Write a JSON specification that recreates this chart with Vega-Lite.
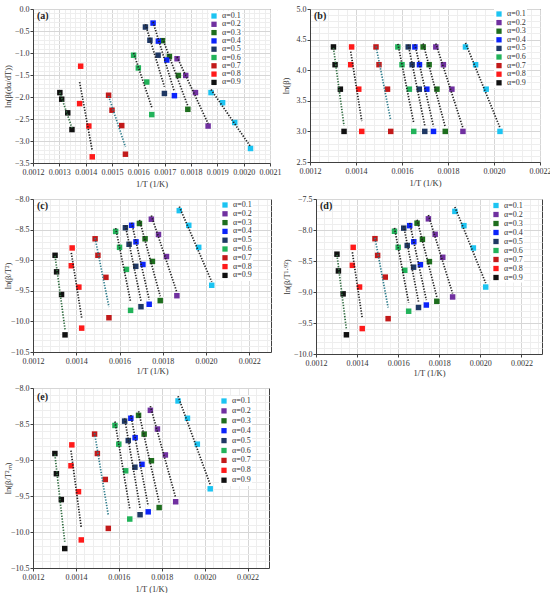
{
  "$schema": "https://vega.github.io/schema/vega-lite/v6.json",
  "padding": {"left": 2, "top": 4, "right": 0, "bottom": 0},
  "background": "white",
  "config": {
    "font": "Liberation Serif",
    "view": {"stroke": "#404040", "strokeWidth": 1},
    "axis": {
      "labelFont": "Liberation Serif",
      "titleFont": "Liberation Serif",
      "labelFontSize": 8,
      "titleFontSize": 8.5,
      "titleFontWeight": "normal",
      "labelColor": "#333333",
      "titleColor": "#333333",
      "domainColor": "#404040",
      "tickColor": "#404040",
      "tickSize": 3,
      "labelPadding": 2,
      "labelOverlap": false,
      "labelFlush": false
    },
    "axisY": {"labelPadding": 1},
    "axisX": {"titlePadding": 3},
    "legend": {
      "orient": "none",
      "title": null,
      "labelFont": "Liberation Serif",
      "labelFontSize": 8,
      "labelColor": "#333333",
      "symbolType": "square",
      "symbolSize": 28,
      "symbolStrokeWidth": 0,
      "fillColor": "white",
      "padding": 1,
      "labelOffset": 4
    },
    "title": {
      "font": "Liberation Serif",
      "fontSize": 10,
      "fontWeight": "bold",
      "color": "#222222",
      "anchor": "start",
      "frame": "group",
      "offset": -16,
      "dx": 4
    }
  },
  "datasets": {
    "pts": [
      {"alpha": "α=0.1", "beta": 80, "lnb": 4.38, "x": 0.001876, "a": -1.90, "c": -8.19, "d": -7.70, "e": -8.18},
      {"alpha": "α=0.1", "beta": 60, "lnb": 4.09, "x": 0.001920, "a": -2.13, "c": -8.43, "d": -7.93, "e": -8.42},
      {"alpha": "α=0.1", "beta": 40, "lnb": 3.69, "x": 0.001966, "a": -2.58, "c": -8.79, "d": -8.29, "e": -8.78},
      {"alpha": "α=0.1", "beta": 20, "lnb": 3.00, "x": 0.002026, "a": -3.17, "c": -9.41, "d": -8.92, "e": -9.40},
      {"alpha": "α=0.2", "beta": 80, "lnb": 4.38, "x": 0.001747, "a": -1.13, "c": -8.33, "d": -7.82, "e": -8.31},
      {"alpha": "α=0.2", "beta": 60, "lnb": 4.09, "x": 0.001780, "a": -1.51, "c": -8.58, "d": -8.07, "e": -8.57},
      {"alpha": "α=0.2", "beta": 40, "lnb": 3.69, "x": 0.001817, "a": -1.90, "c": -8.94, "d": -8.44, "e": -8.93},
      {"alpha": "α=0.2", "beta": 20, "lnb": 3.00, "x": 0.001865, "a": -2.66, "c": -9.58, "d": -9.08, "e": -9.58},
      {"alpha": "α=0.3", "beta": 80, "lnb": 4.38, "x": 0.001692, "a": -0.72, "c": -8.40, "d": -7.89, "e": -8.38},
      {"alpha": "α=0.3", "beta": 60, "lnb": 4.09, "x": 0.001718, "a": -1.08, "c": -8.65, "d": -8.15, "e": -8.64},
      {"alpha": "α=0.3", "beta": 40, "lnb": 3.69, "x": 0.001752, "a": -1.51, "c": -9.02, "d": -8.51, "e": -9.01},
      {"alpha": "α=0.3", "beta": 20, "lnb": 3.00, "x": 0.001788, "a": -2.28, "c": -9.66, "d": -9.15, "e": -9.66},
      {"alpha": "α=0.4", "beta": 80, "lnb": 4.38, "x": 0.001656, "a": -0.32, "c": -8.43, "d": -7.93, "e": -8.42},
      {"alpha": "α=0.4", "beta": 60, "lnb": 4.09, "x": 0.001676, "a": -0.73, "c": -8.70, "d": -8.19, "e": -8.69},
      {"alpha": "α=0.4", "beta": 40, "lnb": 3.69, "x": 0.001708, "a": -1.16, "c": -9.07, "d": -8.56, "e": -9.06},
      {"alpha": "α=0.4", "beta": 20, "lnb": 3.00, "x": 0.001737, "a": -1.97, "c": -9.72, "d": -9.21, "e": -9.72},
      {"alpha": "α=0.5", "beta": 80, "lnb": 4.38, "x": 0.001627, "a": -0.41, "c": -8.47, "d": -7.97, "e": -8.46},
      {"alpha": "α=0.5", "beta": 60, "lnb": 4.09, "x": 0.001644, "a": -0.71, "c": -8.74, "d": -8.25, "e": -8.73},
      {"alpha": "α=0.5", "beta": 40, "lnb": 3.69, "x": 0.001675, "a": -1.05, "c": -9.10, "d": -8.60, "e": -9.10},
      {"alpha": "α=0.5", "beta": 20, "lnb": 3.00, "x": 0.001699, "a": -1.92, "c": -9.76, "d": -9.25, "e": -9.76},
      {"alpha": "α=0.6", "beta": 80, "lnb": 4.38, "x": 0.001582, "a": -1.05, "c": -8.53, "d": -8.02, "e": -8.52},
      {"alpha": "α=0.6", "beta": 60, "lnb": 4.09, "x": 0.001600, "a": -1.34, "c": -8.79, "d": -8.28, "e": -8.78},
      {"alpha": "α=0.6", "beta": 40, "lnb": 3.69, "x": 0.001632, "a": -1.66, "c": -9.15, "d": -8.65, "e": -9.15},
      {"alpha": "α=0.6", "beta": 20, "lnb": 3.00, "x": 0.001651, "a": -2.40, "c": -9.82, "d": -9.31, "e": -9.82},
      {"alpha": "α=0.7", "beta": 80, "lnb": 4.38, "x": 0.001487, "a": -1.96, "c": -8.65, "d": -8.14, "e": -8.64},
      {"alpha": "α=0.7", "beta": 60, "lnb": 4.09, "x": 0.001500, "a": -2.30, "c": -8.92, "d": -8.41, "e": -8.91},
      {"alpha": "α=0.7", "beta": 40, "lnb": 3.69, "x": 0.001537, "a": -2.65, "c": -9.28, "d": -8.76, "e": -9.27},
      {"alpha": "α=0.7", "beta": 20, "lnb": 3.00, "x": 0.001551, "a": -3.30, "c": -9.94, "d": -9.43, "e": -9.95},
      {"alpha": "α=0.8", "beta": 80, "lnb": 4.38, "x": 0.001381, "a": -1.30, "c": -8.80, "d": -8.28, "e": -8.79},
      {"alpha": "α=0.8", "beta": 60, "lnb": 4.09, "x": 0.001377, "a": -2.15, "c": -9.09, "d": -8.57, "e": -9.08},
      {"alpha": "α=0.8", "beta": 40, "lnb": 3.69, "x": 0.001412, "a": -2.66, "c": -9.44, "d": -8.92, "e": -9.44},
      {"alpha": "α=0.8", "beta": 20, "lnb": 3.00, "x": 0.001425, "a": -3.36, "c": -10.11, "d": -9.59, "e": -10.11},
      {"alpha": "α=0.9", "beta": 80, "lnb": 4.38, "x": 0.001302, "a": -1.90, "c": -8.92, "d": -8.39, "e": -8.91},
      {"alpha": "α=0.9", "beta": 60, "lnb": 4.09, "x": 0.001309, "a": -2.05, "c": -9.19, "d": -8.66, "e": -9.19},
      {"alpha": "α=0.9", "beta": 40, "lnb": 3.69, "x": 0.001332, "a": -2.36, "c": -9.56, "d": -9.03, "e": -9.55},
      {"alpha": "α=0.9", "beta": 20, "lnb": 3.00, "x": 0.001348, "a": -2.74, "c": -10.22, "d": -9.69, "e": -10.23}
    ]
  },
  "spacing": 6,
  "resolve": {"scale": {"color": "independent"}, "legend": {"color": "independent"}},
  "vconcat": [
    {
      "spacing": -2,
      "resolve": {"scale": {"color": "independent"}, "legend": {"color": "independent"}},
      "hconcat": [
        {
          "width": 237,
          "height": 154,
          "title": {"text": "(a)"},
          "data": {"name": "pts"},
          "encoding": {
            "x": {
              "field": "x", "type": "quantitative",
              "scale": {"domain": [0.0012, 0.0021], "nice": false, "zero": false},
              "axis": {
                "title": "1/T (1/K)",
                "values": [0.0012,0.00122,0.00124,0.00126,0.00128,0.0013,0.00132,0.00134,0.00136,0.00138,0.0014,0.00142,0.00144,0.00146,0.00148,0.0015,0.00152,0.00154,0.00156,0.00158,0.0016,0.00162,0.00164,0.00166,0.00168,0.0017,0.00172,0.00174,0.00176,0.00178,0.0018,0.00182,0.00184,0.00186,0.00188,0.0019,0.00192,0.00194,0.00196,0.00198,0.002,0.00202,0.00204,0.00206,0.00208,0.0021],
                "format": ".4f",
                "labelExpr": "abs(datum.value*10000 - round(datum.value*10000)) < 0.05 ? datum.label : ''",
                "gridColor": {"condition": {"test": "abs(datum.value*10000 - round(datum.value*10000)) < 0.05", "value": "#d6d6d6"}, "value": "#eeeeee"},
                "tickOpacity": {"condition": {"test": "abs(datum.value*10000 - round(datum.value*10000)) < 0.05", "value": 1}, "value": 0}
              }
            },
            "y": {
              "field": "a", "type": "quantitative",
              "scale": {"domain": [-3.5, 0], "nice": false, "zero": false},
              "axis": {
                "title": "ln(β(dα/dT))",
                "titleX": -21,
                "values": [-3.5,-3.4,-3.3,-3.2,-3.1,-3,-2.9,-2.8,-2.7,-2.6,-2.5,-2.4,-2.3,-2.2,-2.1,-2,-1.9,-1.8,-1.7,-1.6,-1.5,-1.4,-1.3,-1.2,-1.1,-1,-0.9,-0.8,-0.7,-0.6,-0.5,-0.4,-0.3,-0.2,-0.1,0],
                "format": ".1f",
                "labelExpr": "abs(datum.value*2 - round(datum.value*2)) < 0.05 ? datum.label : ''",
                "gridColor": {"condition": {"test": "abs(datum.value*2 - round(datum.value*2)) < 0.05", "value": "#d6d6d6"}, "value": "#eeeeee"},
                "tickOpacity": {"condition": {"test": "abs(datum.value*2 - round(datum.value*2)) < 0.05", "value": 1}, "value": 0}
              }
            }
          },
          "layer": [
            {
              "mark": {"type": "square", "size": 30, "opacity": 1},
              "encoding": {
                "color": {
                  "field": "alpha", "type": "nominal",
                  "scale": {
                    "domain": ["α=0.1","α=0.2","α=0.3","α=0.4","α=0.5","α=0.6","α=0.7","α=0.8","α=0.9"],
                    "range": ["#1cc4f2","#7030a0","#1e6e1e","#0b24fb","#1f3864","#22b35a","#c21a1a","#ff1a1a","#111111"]
                  },
                  "legend": {"legendX": 176, "legendY": 2, "rowPadding": 0.3}
                }
              }
            },
            {
              "transform": [{"regression": "a", "on": "x", "groupby": ["alpha"]}],
              "mark": {"type": "line", "strokeDash": [1.3, 1.5], "strokeWidth": 1.7},
              "encoding": {
                "detail": {"field": "alpha"},
                "color": {"condition": [{"test": "datum.alpha === 'α=0.9'", "value": "#2f6b3f"}, {"test": "datum.alpha === 'α=0.7'", "value": "#2f7d8c"}], "value": "#222222"}
              }
            }
          ]
        },
        {
          "width": 230,
          "height": 153,
          "title": {"text": "(b)"},
          "data": {"name": "pts"},
          "encoding": {
            "x": {
              "field": "x", "type": "quantitative",
              "scale": {"domain": [0.0012, 0.0022], "nice": false, "zero": false},
              "axis": {
                "title": "1/T (1/K)",
                "values": [0.0012,0.00124,0.00128,0.00132,0.00136,0.0014,0.00144,0.00148,0.00152,0.00156,0.0016,0.00164,0.00168,0.00172,0.00176,0.0018,0.00184,0.00188,0.00192,0.00196,0.002,0.00204,0.00208,0.00212,0.00216,0.0022],
                "format": ".4f",
                "labelExpr": "abs(datum.value*5000 - round(datum.value*5000)) < 0.05 ? datum.label : ''",
                "gridColor": {"condition": {"test": "abs(datum.value*5000 - round(datum.value*5000)) < 0.05", "value": "#d6d6d6"}, "value": "#eeeeee"},
                "tickOpacity": {"condition": {"test": "abs(datum.value*5000 - round(datum.value*5000)) < 0.05", "value": 1}, "value": 0}
              }
            },
            "y": {
              "field": "lnb", "type": "quantitative",
              "scale": {"domain": [2.5, 5], "nice": false, "zero": false},
              "axis": {
                "title": "ln(β)",
                "titleX": -20,
                "values": [2.5,2.6,2.7,2.8,2.9,3,3.1,3.2,3.3,3.4,3.5,3.6,3.7,3.8,3.9,4,4.1,4.2,4.3,4.4,4.5,4.6,4.7,4.8,4.9,5],
                "format": ".1f",
                "labelExpr": "abs(datum.value*2 - round(datum.value*2)) < 0.05 ? datum.label : ''",
                "gridColor": {"condition": {"test": "abs(datum.value*2 - round(datum.value*2)) < 0.05", "value": "#d6d6d6"}, "value": "#eeeeee"},
                "tickOpacity": {"condition": {"test": "abs(datum.value*2 - round(datum.value*2)) < 0.05", "value": 1}, "value": 0}
              }
            }
          },
          "layer": [
            {
              "mark": {"type": "square", "size": 30, "opacity": 1},
              "encoding": {
                "color": {
                  "field": "alpha", "type": "nominal",
                  "scale": {
                    "domain": ["α=0.1","α=0.2","α=0.3","α=0.4","α=0.5","α=0.6","α=0.7","α=0.8","α=0.9"],
                    "range": ["#1cc4f2","#7030a0","#1e6e1e","#0b24fb","#1f3864","#22b35a","#c21a1a","#ff1a1a","#111111"]
                  },
                  "legend": {"legendX": 184, "legendY": 0, "rowPadding": 0.6}
                }
              }
            },
            {
              "transform": [{"regression": "lnb", "on": "x", "groupby": ["alpha"]}],
              "mark": {"type": "line", "strokeDash": [1.3, 1.5], "strokeWidth": 1.7},
              "encoding": {
                "detail": {"field": "alpha"},
                "color": {"condition": [{"test": "datum.alpha === 'α=0.9'", "value": "#2f6b3f"}, {"test": "datum.alpha === 'α=0.7'", "value": "#2f7d8c"}], "value": "#222222"}
              }
            }
          ]
        }
      ]
    },
    {
      "spacing": 9,
      "resolve": {"scale": {"color": "independent"}, "legend": {"color": "independent"}},
      "hconcat": [
        {
          "width": 238,
          "height": 153,
          "title": {"text": "(c)"},
          "data": {"name": "pts"},
          "encoding": {
            "x": {
              "field": "x", "type": "quantitative",
              "scale": {"domain": [0.0012, 0.0023], "nice": false, "zero": false},
              "axis": {
                "title": "1/T (1/K)",
                "titlePadding": 1,
                "values": [0.0012,0.00124,0.00128,0.00132,0.00136,0.0014,0.00144,0.00148,0.00152,0.00156,0.0016,0.00164,0.00168,0.00172,0.00176,0.0018,0.00184,0.00188,0.00192,0.00196,0.002,0.00204,0.00208,0.00212,0.00216,0.0022,0.00224,0.00228],
                "format": ".4f",
                "labelExpr": "abs(datum.value*5000 - round(datum.value*5000)) < 0.05 ? datum.label : ''",
                "gridColor": {"condition": {"test": "abs(datum.value*5000 - round(datum.value*5000)) < 0.05", "value": "#d6d6d6"}, "value": "#eeeeee"},
                "tickOpacity": {"condition": {"test": "abs(datum.value*5000 - round(datum.value*5000)) < 0.05", "value": 1}, "value": 0}
              }
            },
            "y": {
              "field": "c", "type": "quantitative",
              "scale": {"domain": [-10.5, -8], "nice": false, "zero": false},
              "axis": {
                "title": "ln(β/T²)",
                "titleX": -21,
                "values": [-10.5,-10.4,-10.3,-10.2,-10.1,-10,-9.9,-9.8,-9.7,-9.6,-9.5,-9.4,-9.3,-9.2,-9.1,-9,-8.9,-8.8,-8.7,-8.6,-8.5,-8.4,-8.3,-8.2,-8.1,-8],
                "format": ".1f",
                "labelExpr": "abs(datum.value*2 - round(datum.value*2)) < 0.05 ? datum.label : ''",
                "gridColor": {"condition": {"test": "abs(datum.value*2 - round(datum.value*2)) < 0.05", "value": "#d6d6d6"}, "value": "#eeeeee"},
                "tickOpacity": {"condition": {"test": "abs(datum.value*2 - round(datum.value*2)) < 0.05", "value": 1}, "value": 0}
              }
            }
          },
          "layer": [
            {
              "mark": {"type": "square", "size": 30, "opacity": 1},
              "encoding": {
                "color": {
                  "field": "alpha", "type": "nominal",
                  "scale": {
                    "domain": ["α=0.1","α=0.2","α=0.3","α=0.4","α=0.5","α=0.6","α=0.7","α=0.8","α=0.9"],
                    "range": ["#1cc4f2","#7030a0","#1e6e1e","#0b24fb","#1f3864","#22b35a","#c21a1a","#ff1a1a","#111111"]
                  },
                  "legend": {"legendX": 187, "legendY": 1, "rowPadding": 0.8}
                }
              }
            },
            {
              "transform": [{"regression": "c", "on": "x", "groupby": ["alpha"]}],
              "mark": {"type": "line", "strokeDash": [1.3, 1.5], "strokeWidth": 1.7},
              "encoding": {
                "detail": {"field": "alpha"},
                "color": {"condition": [{"test": "datum.alpha === 'α=0.9'", "value": "#2f6b3f"}, {"test": "datum.alpha === 'α=0.7'", "value": "#2f7d8c"}], "value": "#222222"}
              }
            }
          ]
        },
        {
          "width": 226,
          "height": 155,
          "title": {"text": "(d)"},
          "data": {"name": "pts"},
          "encoding": {
            "x": {
              "field": "x", "type": "quantitative",
              "scale": {"domain": [0.0012, 0.0023], "nice": false, "zero": false},
              "axis": {
                "title": "1/T (1/K)",
                "titlePadding": 1,
                "values": [0.0012,0.00124,0.00128,0.00132,0.00136,0.0014,0.00144,0.00148,0.00152,0.00156,0.0016,0.00164,0.00168,0.00172,0.00176,0.0018,0.00184,0.00188,0.00192,0.00196,0.002,0.00204,0.00208,0.00212,0.00216,0.0022,0.00224,0.00228],
                "format": ".4f",
                "labelExpr": "abs(datum.value*5000 - round(datum.value*5000)) < 0.05 ? datum.label : ''",
                "gridColor": {"condition": {"test": "abs(datum.value*5000 - round(datum.value*5000)) < 0.05", "value": "#d6d6d6"}, "value": "#eeeeee"},
                "tickOpacity": {"condition": {"test": "abs(datum.value*5000 - round(datum.value*5000)) < 0.05", "value": 1}, "value": 0}
              }
            },
            "y": {
              "field": "d", "type": "quantitative",
              "scale": {"domain": [-10, -7.5], "nice": false, "zero": false},
              "axis": {
                "title": "ln(β/T¹·⁹²)",
                "titleX": -25,
                "values": [-10,-9.9,-9.8,-9.7,-9.6,-9.5,-9.4,-9.3,-9.2,-9.1,-9,-8.9,-8.8,-8.7,-8.6,-8.5,-8.4,-8.3,-8.2,-8.1,-8,-7.9,-7.8,-7.7,-7.6,-7.5],
                "format": ".1f",
                "labelExpr": "abs(datum.value*2 - round(datum.value*2)) < 0.05 ? datum.label : ''",
                "gridColor": {"condition": {"test": "abs(datum.value*2 - round(datum.value*2)) < 0.05", "value": "#d6d6d6"}, "value": "#eeeeee"},
                "tickOpacity": {"condition": {"test": "abs(datum.value*2 - round(datum.value*2)) < 0.05", "value": 1}, "value": 0}
              }
            }
          },
          "layer": [
            {
              "mark": {"type": "square", "size": 30, "opacity": 1},
              "encoding": {
                "color": {
                  "field": "alpha", "type": "nominal",
                  "scale": {
                    "domain": ["α=0.1","α=0.2","α=0.3","α=0.4","α=0.5","α=0.6","α=0.7","α=0.8","α=0.9"],
                    "range": ["#1cc4f2","#7030a0","#1e6e1e","#0b24fb","#1f3864","#22b35a","#c21a1a","#ff1a1a","#111111"]
                  },
                  "legend": {"legendX": 175, "legendY": 1.5, "rowPadding": 1}
                }
              }
            },
            {
              "transform": [{"regression": "d", "on": "x", "groupby": ["alpha"]}],
              "mark": {"type": "line", "strokeDash": [1.3, 1.5], "strokeWidth": 1.7},
              "encoding": {
                "detail": {"field": "alpha"},
                "color": {"condition": [{"test": "datum.alpha === 'α=0.9'", "value": "#2f6b3f"}, {"test": "datum.alpha === 'α=0.7'", "value": "#2f7d8c"}], "value": "#222222"}
              }
            }
          ]
        }
      ]
    },
    {
      "width": 236,
      "height": 180,
      "title": {"text": "(e)", "offset": -18},
      "data": {"name": "pts"},
      "encoding": {
        "x": {
          "field": "x", "type": "quantitative",
          "scale": {"domain": [0.0012, 0.0023], "nice": false, "zero": false},
          "axis": {
            "title": "1/T (1/K)",
            "values": [0.0012,0.00124,0.00128,0.00132,0.00136,0.0014,0.00144,0.00148,0.00152,0.00156,0.0016,0.00164,0.00168,0.00172,0.00176,0.0018,0.00184,0.00188,0.00192,0.00196,0.002,0.00204,0.00208,0.00212,0.00216,0.0022,0.00224,0.00228],
            "format": ".4f",
            "labelExpr": "abs(datum.value*5000 - round(datum.value*5000)) < 0.05 ? datum.label : ''",
            "gridColor": {"condition": {"test": "abs(datum.value*5000 - round(datum.value*5000)) < 0.05", "value": "#d6d6d6"}, "value": "#eeeeee"},
            "tickOpacity": {"condition": {"test": "abs(datum.value*5000 - round(datum.value*5000)) < 0.05", "value": 1}, "value": 0}
          }
        },
        "y": {
          "field": "e", "type": "quantitative",
          "scale": {"domain": [-10.5, -8], "nice": false, "zero": false},
          "axis": {
            "title": "ln(β/T²ₘ)",
            "titleX": -21,
            "values": [-10.5,-10.4,-10.3,-10.2,-10.1,-10,-9.9,-9.8,-9.7,-9.6,-9.5,-9.4,-9.3,-9.2,-9.1,-9,-8.9,-8.8,-8.7,-8.6,-8.5,-8.4,-8.3,-8.2,-8.1,-8],
            "format": ".1f",
            "labelExpr": "abs(datum.value*2 - round(datum.value*2)) < 0.05 ? datum.label : ''",
            "gridColor": {"condition": {"test": "abs(datum.value*2 - round(datum.value*2)) < 0.05", "value": "#d6d6d6"}, "value": "#eeeeee"},
            "tickOpacity": {"condition": {"test": "abs(datum.value*2 - round(datum.value*2)) < 0.05", "value": 1}, "value": 0}
          }
        }
      },
      "layer": [
        {
          "mark": {"type": "square", "size": 30, "opacity": 1},
          "encoding": {
            "color": {
              "field": "alpha", "type": "nominal",
              "scale": {
                "domain": ["α=0.1","α=0.2","α=0.3","α=0.4","α=0.5","α=0.6","α=0.7","α=0.8","α=0.9"],
                "range": ["#1cc4f2","#7030a0","#1e6e1e","#0b24fb","#1f3864","#22b35a","#c21a1a","#ff1a1a","#111111"]
              },
              "legend": {"legendX": 186, "legendY": 8, "rowPadding": 1.9}
            }
          }
        },
        {
          "transform": [{"regression": "e", "on": "x", "groupby": ["alpha"]}],
          "mark": {"type": "line", "strokeDash": [1.3, 1.5], "strokeWidth": 1.7},
          "encoding": {
            "detail": {"field": "alpha"},
            "color": {"condition": [{"test": "datum.alpha === 'α=0.9'", "value": "#2f6b3f"}, {"test": "datum.alpha === 'α=0.7'", "value": "#2f7d8c"}], "value": "#222222"}
          }
        }
      ]
    }
  ]
}
